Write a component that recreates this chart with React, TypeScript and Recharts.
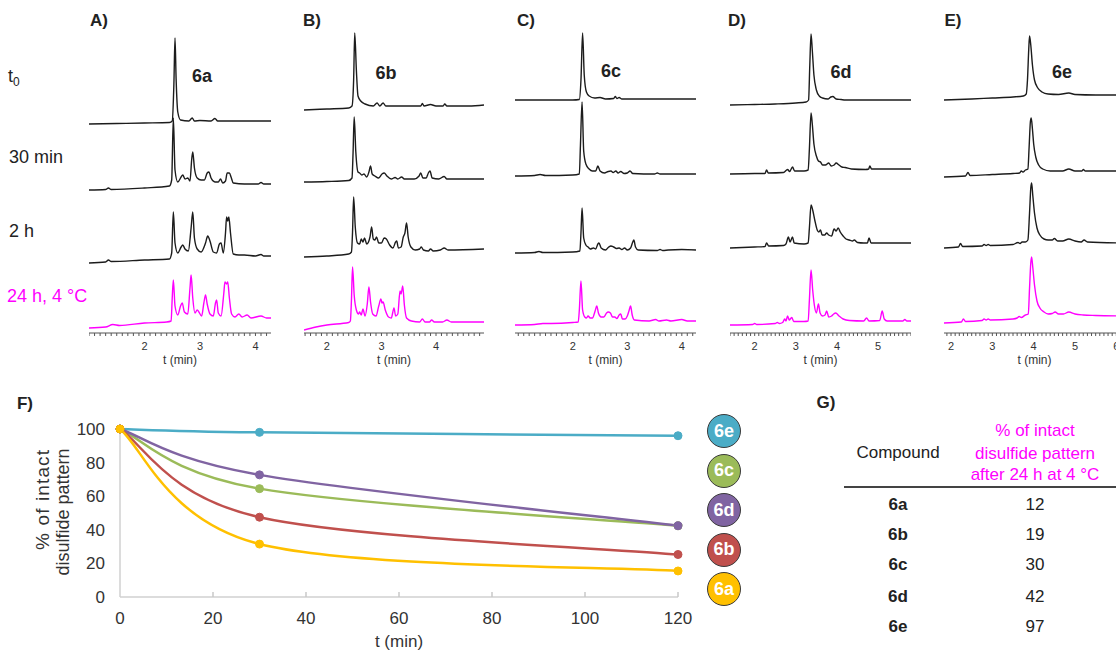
import React from "react";
import { LineChart, Line, XAxis, YAxis, Label, Legend } from "recharts";

type Pt = [number, number];

// chromatogram traces: [t (min), signal above the trace's own baseline, a.u.]
// A) 6a
const A_T0: Pt[] = [[1.0,0],[1.5,0.5],[2.0,1],[2.45,1.5],[2.5,3],[2.53,40],[2.55,86],[2.57,45],[2.6,12],[2.65,4],[2.8,3],[2.86,6],[2.9,3],[3.0,3.5],[3.2,3],[3.27,5.5],[3.32,3],[3.7,3],[4.0,3],[4.28,3]];
const A_30: Pt[] = [[1.0,0],[1.3,0.5],[1.35,2],[1.4,0.5],[2.0,2],[2.45,4],[2.49,10],[2.52,72],[2.55,20],[2.6,8],[2.66,13],[2.69,15],[2.73,11],[2.78,12],[2.82,9],[2.85,30],[2.87,38],[2.9,22],[2.95,12],[3.02,10],[3.08,10],[3.13,17],[3.16,18],[3.2,12],[3.27,8],[3.33,8],[3.37,11],[3.41,7],[3.46,9],[3.49,17],[3.53,17],[3.56,13],[3.6,7],[3.8,6],[4.05,6],[4.1,7.5],[4.15,6],[4.28,6]];
const A_2H: Pt[] = [[1.0,0],[1.3,1],[1.35,3],[1.4,1.5],[2.0,3],[2.45,4],[2.49,10],[2.52,51],[2.55,20],[2.6,10],[2.66,16],[2.69,18],[2.73,14],[2.79,12],[2.84,35],[2.87,51],[2.9,25],[2.95,14],[3.02,11],[3.1,20],[3.14,27],[3.18,22],[3.24,11],[3.3,10],[3.35,19],[3.38,20],[3.42,10],[3.46,30],[3.48,46],[3.5,42],[3.52,46],[3.55,30],[3.6,9],[3.7,8],[3.8,8],[4.0,7],[4.1,8.5],[4.15,7],[4.28,7]];
const A_24H: Pt[] = [[1.0,0],[1.3,1],[1.43,3.5],[1.55,2.5],[2.0,5],[2.4,6],[2.48,7],[2.5,30],[2.52,48],[2.55,22],[2.6,13],[2.65,22],[2.68,25],[2.72,16],[2.78,14],[2.82,40],[2.84,53],[2.87,30],[2.91,15],[2.95,18],[2.98,16],[3.03,12],[3.07,25],[3.1,33],[3.13,24],[3.18,14],[3.24,12],[3.28,25],[3.3,28],[3.33,15],[3.38,12],[3.43,35],[3.45,46],[3.48,44],[3.5,46],[3.53,30],[3.57,14],[3.63,11],[3.7,14],[3.76,11],[3.85,13],[3.92,10],[4.1,12],[4.2,10],[4.28,10]];

// B) 6b
const B_T0: Pt[] = [[1.58,0],[2.0,1],[2.4,2],[2.46,4],[2.49,30],[2.51,77],[2.54,40],[2.57,14],[2.62,9],[2.7,6],[2.85,4],[2.92,7],[2.97,4],[3.03,7],[3.08,4],[3.5,4],[3.72,4],[3.75,6.5],[3.78,4],[3.9,5.5],[4.0,4],[4.13,4],[4.16,6],[4.2,4],[4.6,4],[4.88,5]];
const B_30: Pt[] = [[1.58,0],[2.0,0.5],[2.4,1.5],[2.46,4],[2.48,30],[2.5,65],[2.53,30],[2.57,10],[2.6,9],[2.64,7],[2.68,8],[2.73,5],[2.77,10],[2.8,16],[2.83,8],[2.88,6],[2.95,4],[3.01,8],[3.05,9],[3.1,6],[3.18,3],[3.25,4.5],[3.3,3],[3.37,5],[3.42,3],[3.6,3],[3.69,6],[3.72,9],[3.76,4],[3.82,4],[3.86,9],[3.89,11],[3.93,4],[4.05,3],[4.15,5.5],[4.2,3],[4.88,3]];
const B_2H: Pt[] = [[1.58,0],[2.0,1],[2.4,3],[2.45,5],[2.47,25],[2.49,60],[2.52,30],[2.56,14],[2.6,13],[2.63,18],[2.66,15],[2.69,19],[2.73,13],[2.79,20],[2.82,30],[2.85,18],[2.88,17],[2.91,20],[2.95,14],[3.0,14],[3.05,19],[3.09,18],[3.15,12],[3.21,9],[3.26,15],[3.28,16],[3.31,9],[3.36,10],[3.4,20],[3.43,24],[3.46,34],[3.49,20],[3.54,10],[3.62,7],[3.7,8],[3.73,10],[3.77,7],[3.86,6],[3.9,8],[3.95,6],[4.08,7],[4.15,9],[4.22,7],[4.88,8]];
const B_24H: Pt[] = [[1.58,0],[1.8,3],[2.0,5],[2.4,7.5],[2.43,9],[2.45,30],[2.47,63],[2.5,35],[2.54,20],[2.58,16],[2.6,18],[2.63,15],[2.66,21],[2.7,14],[2.74,26],[2.77,43],[2.8,28],[2.84,16],[2.9,14],[2.95,24],[2.99,31],[3.01,27],[3.03,28],[3.07,20],[3.13,13],[3.18,12],[3.23,22],[3.26,14],[3.3,16],[3.34,39],[3.36,36],[3.39,44],[3.42,25],[3.46,12],[3.55,9],[3.7,8],[3.75,11],[3.8,8],[3.88,8],[3.92,10],[3.97,8],[4.12,8],[4.2,10],[4.28,8],[4.88,8]];

// C) 6c
const C_T0: Pt[] = [[0.94,0],[2.0,0],[2.12,0.5],[2.15,20],[2.18,67],[2.21,25],[2.25,8],[2.3,4],[2.4,2],[2.5,2.5],[2.6,1],[2.75,1.5],[2.78,3.5],[2.81,1.5],[2.85,2.5],[2.9,1],[3.5,1],[4.26,1]];
const C_30: Pt[] = [[0.94,0],[1.3,0.5],[1.4,1.5],[1.5,0.5],[2.0,1],[2.12,2],[2.14,30],[2.17,74],[2.2,25],[2.24,12],[2.3,7],[2.36,5],[2.42,5],[2.46,10],[2.5,5],[2.58,3],[2.65,4.5],[2.7,5],[2.74,3.5],[2.79,5],[2.83,3],[2.88,4.5],[2.94,2.5],[3.0,3],[3.05,5],[3.1,2.5],[3.5,2],[3.55,3],[3.6,2],[4.26,2]];
const C_2H: Pt[] = [[0.94,0],[1.3,0.5],[1.38,1.5],[1.45,0.5],[2.0,1],[2.13,2],[2.15,20],[2.17,45],[2.2,15],[2.24,8],[2.28,6],[2.32,4],[2.38,5],[2.42,4],[2.46,9],[2.48,10],[2.52,5],[2.6,3],[2.66,6],[2.7,7],[2.75,6],[2.8,4.5],[2.85,5],[2.9,3.5],[2.95,5],[3.0,3],[3.06,5],[3.1,11],[3.12,13],[3.15,6],[3.2,3],[3.55,2.5],[3.6,3.5],[3.65,2.5],[3.75,3],[4.0,3.5],[4.26,3]];
const C_24H: Pt[] = [[0.94,0],[1.3,0.5],[1.45,1.5],[1.6,1.5],[2.0,2.5],[2.1,3],[2.12,15],[2.15,44],[2.18,15],[2.22,8],[2.25,7],[2.28,9],[2.32,7],[2.36,7],[2.41,14],[2.44,19],[2.47,12],[2.52,8],[2.57,8],[2.62,12],[2.65,13],[2.69,12],[2.73,8],[2.77,8],[2.81,6.5],[2.85,10],[2.88,11],[2.91,6],[2.96,6],[3.0,9],[3.03,14],[3.06,19],[3.09,10],[3.13,5],[3.4,4],[3.52,5.5],[3.58,4],[3.72,5],[3.8,4],[4.0,5.5],[4.1,4],[4.26,4]];

// D) 6d
const D_T0: Pt[] = [[1.4,0],[2.0,0.5],[2.5,1],[3.0,2],[3.25,3],[3.31,5],[3.34,40],[3.37,71],[3.4,55],[3.44,30],[3.5,15],[3.57,9],[3.65,7],[3.78,6],[3.85,8],[3.9,8.5],[3.98,6],[4.1,5.5],[4.2,5],[4.8,5],[5.8,5]];
const D_30: Pt[] = [[1.4,0],[2.0,0.5],[2.25,0.5],[2.29,4],[2.33,1],[2.7,1.5],[2.8,4.5],[2.85,2.5],[2.92,7],[2.97,3],[3.2,3],[3.3,4],[3.33,25],[3.37,61],[3.4,50],[3.44,30],[3.5,18],[3.55,13],[3.6,12],[3.65,9],[3.72,9],[3.8,11],[3.86,8],[3.93,9],[3.98,11],[4.05,9],[4.12,7],[4.2,6.5],[4.35,5],[4.7,4.5],[4.77,5],[4.8,8],[4.84,5],[5.2,5],[5.8,5]];
const D_2H: Pt[] = [[1.4,0],[2.0,1],[2.25,1.5],[2.29,5],[2.34,2],[2.7,2.5],[2.76,4],[2.82,11],[2.86,6],[2.92,11],[2.96,5],[3.2,4],[3.3,5],[3.33,20],[3.37,43],[3.41,38],[3.46,28],[3.52,18],[3.56,16],[3.6,18],[3.64,13],[3.7,13],[3.75,15],[3.8,13],[3.87,12],[3.93,19],[3.98,17],[4.03,20],[4.08,16],[4.15,12],[4.22,9],[4.3,8],[4.38,7],[4.42,8],[4.5,5.5],[4.65,5],[4.74,5],[4.78,10],[4.83,5],[5.2,5],[5.8,5]];
const D_24H: Pt[] = [[1.4,0],[1.95,0.5],[2.0,1.5],[2.05,0.5],[2.5,1.5],[2.55,2.5],[2.6,1.5],[2.68,2.5],[2.73,6],[2.76,4],[2.8,9],[2.84,5],[2.9,7.5],[2.95,3.5],[3.2,3.5],[3.3,4],[3.33,25],[3.37,55],[3.41,35],[3.45,20],[3.5,12],[3.55,21],[3.59,12],[3.65,9],[3.71,10],[3.75,14],[3.8,8],[3.87,9],[3.92,11],[3.97,12],[4.05,9],[4.15,6],[4.3,4.5],[4.65,4],[4.72,7],[4.78,4],[5.04,4.5],[5.1,14],[5.15,6],[5.22,4],[5.6,4],[5.65,5.5],[5.7,4],[5.8,4]];

// E) 6e
const E_T0: Pt[] = [[1.83,0],[2.5,1],[3.0,2],[3.5,3],[3.75,4],[3.82,6],[3.85,20],[3.88,50],[3.9,64],[3.93,55],[3.97,35],[4.02,20],[4.1,12],[4.2,8],[4.35,6],[4.6,5.5],[4.85,7],[5.0,5.5],[5.5,5],[6.21,5]];
const E_30: Pt[] = [[1.83,0],[2.35,1],[2.41,4.5],[2.46,1.5],[3.0,2.5],[3.5,3.5],[3.66,4],[3.7,6],[3.74,5],[3.8,7],[3.86,8],[3.89,30],[3.92,55],[3.94,59],[3.97,48],[4.0,33],[4.05,20],[4.12,12],[4.22,8],[4.4,6],[4.7,6],[4.85,8],[5.0,6],[5.17,6],[5.2,7.5],[5.25,6],[6.21,6]];
const E_2H: Pt[] = [[1.83,0],[2.18,1],[2.23,4.5],[2.28,1.5],[2.75,2],[2.8,3.5],[2.85,2.5],[2.9,3.5],[2.95,2.5],[3.5,3.5],[3.62,5.5],[3.67,4.5],[3.72,6],[3.8,6],[3.86,8],[3.9,35],[3.93,60],[3.95,65],[3.98,52],[4.02,35],[4.08,20],[4.15,13],[4.25,9],[4.35,8],[4.45,8],[4.5,9.5],[4.58,7],[4.7,7],[4.85,9],[5.0,7],[5.15,6],[5.22,8],[5.3,6],[6.21,5]];
const E_24H: Pt[] = [[1.83,0],[2.25,1],[2.3,4],[2.35,1.5],[2.75,2.5],[2.8,4],[2.85,3],[2.9,4],[2.95,3],[3.5,4],[3.6,5],[3.65,6.5],[3.7,5.5],[3.8,8],[3.87,9],[3.9,35],[3.93,60],[3.95,66],[3.98,55],[4.02,38],[4.08,22],[4.15,15],[4.25,11],[4.35,9],[4.45,9.5],[4.52,11],[4.6,9],[4.72,9],[4.85,11],[5.0,9],[5.2,8],[5.5,7.5],[6.21,7]];

const ROW_LABELS = ["30 min", "2 h"];

// F) intact disulfide pattern over time
const TIMES = [0, 30, 120];
const S_6A = [100, 31.5, 15.5];
const S_6B = [100, 47.5, 25.3];
const S_6C = [100, 64.5, 42.4];
const S_6D = [100, 72.7, 42.4];
const S_6E = [100, 98, 96];
const F_X_TICKS = [0, 20, 40, 60, 80, 100, 120];
const F_Y_TICKS = [0, 20, 40, 60, 80, 100];

// G) table
const COMPOUNDS = ["6a", "6b", "6c", "6d", "6e"];
const INTACT_24H = [12, 19, 30, 42, 97];
const ROW_Y = [504, 534, 564, 596, 626];

const FONT = '"Liberation Sans", Arial, Helvetica, sans-serif';
const INK = "#1c1c1c";
const MAGENTA = "#ff00ff";
const PLOT_TOP = 25;
const AXIS_Y = 333;
const XAXIS_H = 40;

const PANELS = [
  { letter: "A)", letterX: 99, compound: "6a", cx: 202, cy: 76, left: 89, width: 182, domain: [1.0, 4.28], majors: [2, 3, 4], traces: [A_T0, A_30, A_2H, A_24H], base: [124, 190, 263, 328] },
  { letter: "B)", letterX: 312, compound: "6b", cx: 386, cy: 73, left: 304, width: 180, domain: [1.58, 4.88], majors: [2, 3, 4], traces: [B_T0, B_30, B_2H, B_24H], base: [110, 182, 257, 330] },
  { letter: "C)", letterX: 526, compound: "6c", cx: 611, cy: 71, left: 515, width: 181, domain: [0.94, 4.26], majors: [2, 3, 4], traces: [C_T0, C_30, C_2H, C_24H], base: [100, 176, 253, 325] },
  { letter: "D)", letterX: 737, compound: "6d", cx: 841, cy: 72, left: 730, width: 181, domain: [1.4, 5.8], majors: [2, 3, 4, 5], traces: [D_T0, D_30, D_2H, D_24H], base: [105, 174, 248, 325] },
  { letter: "E)", letterX: 953, compound: "6e", cx: 1062, cy: 72, left: 944, width: 181, domain: [1.83, 6.21], majors: [2, 3, 4, 5, 6], traces: [E_T0, E_30, E_2H, E_24H], base: [100, 177, 248, 323] },
];

// drawing order = legend order (top to bottom)
const SERIES = [
  { key: "6e", values: S_6E, color: "#4bacc6" },
  { key: "6c", values: S_6C, color: "#9bbb59" },
  { key: "6d", values: S_6D, color: "#8064a2" },
  { key: "6b", values: S_6B, color: "#c0504d" },
  { key: "6a", values: S_6A, color: "#ffc000" },
];
const SERIES_ORDER = SERIES.map((s) => s.key);

const toRows = (pts: Pt[]) => pts.map(([t, v]) => ({ t, v }));

function minorTicks([lo, hi]: number[]) {
  const out: number[] = [];
  for (let k = Math.ceil(lo * 10); k <= Math.floor(hi * 10); k++) out.push(k / 10);
  return out;
}

// spreadsheet-style smoothed line (cardinal bezier, tension 1/6) as a d3 curve factory
function smoothCurve(context: any) {
  let pts: number[][] = [];
  return {
    areaStart() {},
    areaEnd() {},
    lineStart() {
      pts = [];
    },
    point(x: number, y: number) {
      pts.push([+x, +y]);
    },
    lineEnd() {
      if (!pts.length) return;
      context.moveTo(pts[0][0], pts[0][1]);
      for (let i = 0; i < pts.length - 1; i++) {
        const p0 = pts[i - 1] || pts[i];
        const p1 = pts[i];
        const p2 = pts[i + 1];
        const p3 = pts[i + 2] || p2;
        context.bezierCurveTo(
          p1[0] + (p2[0] - p0[0]) / 6,
          p1[1] + (p2[1] - p0[1]) / 6,
          p2[0] - (p3[0] - p1[0]) / 6,
          p2[1] - (p3[1] - p1[1]) / 6,
          p2[0],
          p2[1]
        );
      }
    },
  };
}

function Txt({ x, y, size = 17, bold = false, color = "#222", anchor = "start", children }: any) {
  const tx = anchor === "middle" ? "-50%" : anchor === "end" ? "-100%" : "0";
  return (
    <div
      style={{
        position: "absolute",
        left: x,
        top: y - size / 2,
        fontSize: size,
        lineHeight: `${size}px`,
        fontWeight: bold ? 700 : 400,
        color,
        whiteSpace: "nowrap",
        transform: `translateX(${tx})`,
      }}
    >
      {children}
    </div>
  );
}

function Chromatogram({ p }: { p: (typeof PANELS)[number] }) {
  return (
    <div style={{ position: "absolute", left: p.left, top: PLOT_TOP }}>
      <LineChart width={p.width} height={AXIS_Y - PLOT_TOP + XAXIS_H} margin={{ top: 0, right: 0, bottom: 0, left: 0 }}>
        <XAxis
          type="number"
          dataKey="t"
          domain={p.domain}
          allowDataOverflow
          ticks={minorTicks(p.domain)}
          interval={0}
          tickSize={3}
          tickMargin={6}
          height={XAXIS_H}
          axisLine={{ stroke: "#555" }}
          tickLine={{ stroke: "#555" }}
          tick={{ fontSize: 11, fill: "#333", fontFamily: FONT }}
          tickFormatter={(v: number) => (p.majors.includes(v) ? String(v) : "")}
        >
          <Label value="t (min)" position="insideBottom" offset={9} style={{ fontSize: 12, fill: "#333", fontFamily: FONT }} />
        </XAxis>
        {p.base.map((b, i) => (
          <YAxis key={i} yAxisId={`y${i}`} hide type="number" domain={[b - AXIS_Y, b - PLOT_TOP]} allowDataOverflow />
        ))}
        {p.traces.map((tr, i) => (
          <Line
            key={i}
            yAxisId={`y${i}`}
            data={toRows(tr)}
            dataKey="v"
            type="monotone"
            stroke={i === 3 ? MAGENTA : INK}
            strokeWidth={1.4}
            dot={false}
            activeDot={false}
            isAnimationActive={false}
          />
        ))}
      </LineChart>
    </div>
  );
}

const FTick = ({ x, y, payload }: any) => (
  <g>
    {payload.value !== 0 && <line x1={x} x2={x} y1={y - 15} y2={y - 20} stroke="#c8c8c8" strokeWidth={1.5} />}
    <text x={x} y={y} dy="0.72em" textAnchor="middle" fontSize={17} fill="#333" fontFamily={FONT}>
      {payload.value}
    </text>
  </g>
);

const BadgeLegend = ({ payload }: any) => {
  const items = [...(payload || [])].sort((a: any, b: any) => SERIES_ORDER.indexOf(a.value) - SERIES_ORDER.indexOf(b.value));
  return (
    <div style={{ display: "flex", flexDirection: "column", gap: 5.5 }}>
      {items.map((e: any) => (
        <div
          key={e.value}
          style={{
            width: 34,
            height: 34,
            borderRadius: "50%",
            background: e.color,
            border: "1.2px solid #3a3a3a",
            boxSizing: "border-box",
            color: "#fff",
            fontWeight: 700,
            fontSize: 18,
            fontFamily: FONT,
            display: "flex",
            alignItems: "center",
            justifyContent: "center",
          }}
        >
          {e.value}
        </div>
      ))}
    </div>
  );
};

function DecayChart() {
  const rows = TIMES.map((t, i) => {
    const r: Record<string, number> = { t };
    SERIES.forEach((s) => (r[s.key] = s.values[i]));
    return r;
  });
  return (
    <div style={{ position: "absolute", left: 0, top: 400 }}>
      <LineChart width={760} height={251} data={rows} margin={{ top: 29, right: 82, bottom: 0, left: 60 }}>
        <XAxis
          type="number"
          dataKey="t"
          domain={[0, 120]}
          ticks={F_X_TICKS}
          interval={0}
          height={54}
          tickSize={0}
          tickMargin={15}
          axisLine={{ stroke: "#d0d0d0", strokeWidth: 1.5 }}
          tickLine={false}
          tick={<FTick />}
        >
          <Label value="t (min)" position="insideBottom" offset={4} style={{ fontSize: 17, fill: "#333", fontFamily: FONT }} />
        </XAxis>
        <YAxis
          type="number"
          domain={[0, 100]}
          ticks={F_Y_TICKS}
          interval={0}
          width={60}
          tickSize={0}
          tickMargin={15}
          axisLine={{ stroke: "#d0d0d0", strokeWidth: 1.5 }}
          tickLine={false}
          tick={{ fontSize: 17, fill: "#333", fontFamily: FONT }}
          label={{
            content: () => (
              <g fontFamily={FONT} fontSize={19} fill="#333">
                <text transform="translate(49,100) rotate(-90)" textAnchor="middle" textLength={100} lengthAdjust="spacing">
                  % of intact
                </text>
                <text transform="translate(69,112) rotate(-90)" textAnchor="middle" textLength={127} lengthAdjust="spacingAndGlyphs">
                  disulfide pattern
                </text>
              </g>
            ),
          }}
        />
        {SERIES.map((s) => (
          <Line
            key={s.key}
            dataKey={s.key}
            name={s.key}
            type={smoothCurve as any}
            stroke={s.color}
            strokeWidth={2.5}
            dot={{ r: 4, fill: s.color, stroke: s.color, strokeWidth: 1 }}
            activeDot={false}
            isAnimationActive={false}
          />
        ))}
        <Legend layout="vertical" align="center" verticalAlign="middle" content={<BadgeLegend />} wrapperStyle={{ left: 707, top: 14, width: 34, height: 200 }} />
      </LineChart>
    </div>
  );
}

export default function App() {
  return (
    <div
      style={{
        position: "absolute",
        left: 0,
        top: 0,
        width: 1116,
        height: 651,
        overflow: "hidden",
        background: "#fff",
        fontFamily: FONT,
        color: "#222",
      }}
    >
      {PANELS.map((p) => (
        <React.Fragment key={p.letter}>
          <Txt x={p.letterX} y={20} bold anchor="middle">{p.letter}</Txt>
          <Chromatogram p={p} />
          <Txt x={p.cx} y={p.cy} size={18} bold anchor="middle">{p.compound}</Txt>
        </React.Fragment>
      ))}

      <Txt x={8} y={76} size={18} color="#222">
        <span style={{ color: "#222" }}>t</span>
        <span style={{ color: "#222", fontSize: 12, position: "relative", top: 4 }}>0</span>
      </Txt>
      <Txt x={9} y={157} size={18}>{ROW_LABELS[0]}</Txt>
      <Txt x={9} y={231} size={18}>{ROW_LABELS[1]}</Txt>
      <Txt x={7} y={296} size={18} color={MAGENTA}>24 h, 4 °C</Txt>

      <Txt x={25} y={403} bold anchor="middle">F)</Txt>
      <DecayChart />

      <Txt x={826} y={402} bold anchor="middle">G)</Txt>
      <Txt x={898} y={452} anchor="middle">Compound</Txt>
      <Txt x={1035} y={430} anchor="middle" color={MAGENTA}>% of intact</Txt>
      <Txt x={1035} y={453} anchor="middle" color={MAGENTA}>disulfide pattern</Txt>
      <Txt x={1035} y={474} anchor="middle" color={MAGENTA}>after 24 h at 4 °C</Txt>
      <div style={{ position: "absolute", left: 844, top: 486, width: 272, height: 2, background: "#444" }} />
      {COMPOUNDS.map((c, i) => (
        <React.Fragment key={c}>
          <Txt x={898} y={ROW_Y[i]} bold anchor="middle">{c}</Txt>
          <Txt x={1035} y={ROW_Y[i]} anchor="middle">{INTACT_24H[i]}</Txt>
        </React.Fragment>
      ))}
    </div>
  );
}
